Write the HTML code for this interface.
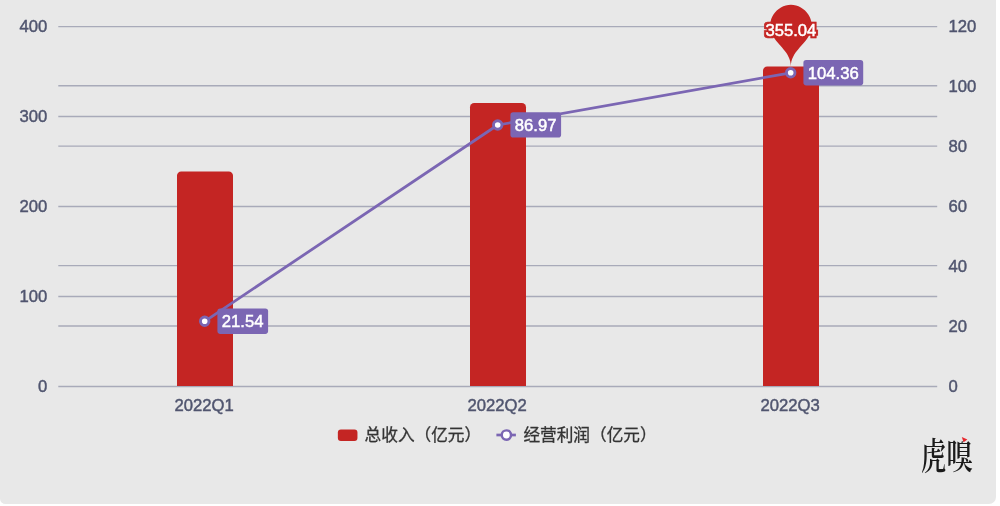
<!DOCTYPE html>
<html lang="zh-CN">
<head>
<meta charset="utf-8">
<title>2022 季度总收入与经营利润</title>
<style>
  html, body { margin: 0; padding: 0; background: #ffffff; }
  body { width: 1000px; height: 506px; overflow: hidden; position: relative; }
  .panel { position: absolute; left: 0; top: 0; width: 996.1px; height: 503.5px; background: #e8e8e8; border-radius: 0 0 7px 5.5px; }
  svg { position: absolute; left: 0; top: 0; display: block; }
  .ax { font-family: "Liberation Sans", "Noto Sans CJK SC", sans-serif; font-size: 16.67px; fill: #50556f; stroke: #50556f; stroke-width: 0.45px; }
  .lg { font-family: "Liberation Sans", "Noto Sans CJK SC", sans-serif; font-size: 16.67px; fill: #333333; stroke: #333333; stroke-width: 0.3px; }
  .lb { font-family: "Liberation Sans", "Noto Sans CJK SC", sans-serif; font-size: 16.67px; fill: #ffffff; }
  .lbw { stroke: #ffffff; stroke-width: 0.5px; }
  .logo { font-family: "Noto Serif CJK SC", "Liberation Serif", serif; font-weight: 600; fill: #1a1a1a; }
</style>
</head>
<body>
<div class="panel"></div>
<svg width="1000" height="506" viewBox="0 0 1000 506">
  <!-- split lines (left axis 0-400 & right axis 0-120) -->
  <g stroke="#a8aab9" stroke-width="1.4" fill="none">
    <line x1="58.3" y1="26.6" x2="937.2" y2="26.6"/>
    <line x1="58.3" y1="85.7" x2="937.2" y2="85.7"/>
    <line x1="58.3" y1="116.5" x2="937.2" y2="116.5"/>
    <line x1="58.3" y1="146.1" x2="937.2" y2="146.1"/>
    <line x1="58.3" y1="206.5" x2="937.2" y2="206.5"/>
    <line x1="58.3" y1="265.6" x2="937.2" y2="265.6"/>
    <line x1="58.3" y1="296.5" x2="937.2" y2="296.5"/>
    <line x1="58.3" y1="326.0" x2="937.2" y2="326.0"/>
    <line x1="58.3" y1="386.5" x2="937.2" y2="386.5"/>
  </g>

  <!-- left axis labels -->
  <g class="ax" text-anchor="end">
    <text x="47.3" y="31.6">400</text>
    <text x="47.3" y="121.6">300</text>
    <text x="47.3" y="211.6">200</text>
    <text x="47.3" y="301.6">100</text>
    <text x="47.3" y="391.6">0</text>
  </g>
  <!-- right axis labels -->
  <g class="ax" text-anchor="start">
    <text x="948.4" y="31.6">120</text>
    <text x="948.4" y="91.6">100</text>
    <text x="948.4" y="151.6">80</text>
    <text x="948.4" y="211.6">60</text>
    <text x="948.4" y="271.6">40</text>
    <text x="948.4" y="331.6">20</text>
    <text x="948.4" y="391.6">0</text>
  </g>
  <!-- category labels -->
  <g class="ax" text-anchor="middle">
    <text x="204.2" y="411">2022Q1</text>
    <text x="497.2" y="411">2022Q2</text>
    <text x="790.2" y="411">2022Q3</text>
  </g>

  <!-- bars -->
  <g fill="#c42523">
    <path d="M177,386 V175.6 a4.2,4.2 0 0 1 4.2,-4.2 H228.8 a4.2,4.2 0 0 1 4.2,4.2 V386 Z"/>
    <path d="M470,386 V107.2 a4.2,4.2 0 0 1 4.2,-4.2 H521.8 a4.2,4.2 0 0 1 4.2,4.2 V386 Z"/>
    <path d="M763,386 V70.8 a4.2,4.2 0 0 1 4.2,-4.2 H814.8 a4.2,4.2 0 0 1 4.2,4.2 V386 Z"/>
  </g>

  <!-- mark point pin -->
  <path fill="#c42523" d="M772.10,34.21 A20.70,20.70 0 1 1 809.70,34.21 C804.51,45.49 790.90,51.91 790.90,66.40 C790.90,51.91 777.29,45.49 772.10,34.21 Z"/>
  <defs>
    <filter id="tb" x="-20%" y="-40%" width="140%" height="180%" color-interpolation-filters="sRGB">
      <feMorphology in="SourceAlpha" operator="dilate" radius="2.3" result="d"/>
      <feFlood flood-color="#c42523"/>
      <feComposite in2="d" operator="in" result="o"/>
      <feMerge><feMergeNode in="o"/><feMergeNode in="SourceGraphic"/></feMerge>
    </filter>
  </defs>
  <text class="lb lbw" x="790.9" y="36.1" text-anchor="middle" filter="url(#tb)">355.04</text>

  <!-- line series -->
  <polyline points="204.7,321.3 497.7,125.0 790.7,72.8" fill="none" stroke="#7b66b3" stroke-width="2.78" stroke-linejoin="round" stroke-linecap="round"/>
  <g fill="#ffffff" stroke="#7b66b3" stroke-width="2.9">
    <circle cx="204.7" cy="321.3" r="4.25"/>
    <circle cx="497.7" cy="125.0" r="4.25"/>
    <circle cx="790.7" cy="72.8" r="4.25"/>
  </g>

  <!-- line labels -->
  <g fill="#7b66b3">
    <rect x="217.4" y="308.5" width="50.7" height="25.4" rx="2.8"/>
    <rect x="510.4" y="112.2" width="50.7" height="25.4" rx="2.8"/>
    <rect x="803.4" y="60.0" width="59.8" height="25.4" rx="2.8"/>
  </g>
  <g class="lb lbw" text-anchor="start">
    <text x="221.8" y="327.2">21.54</text>
    <text x="514.8" y="130.9">86.97</text>
    <text x="807.8" y="78.7">104.36</text>
  </g>

  <!-- legend -->
  <rect x="337.85" y="429.6" width="19.6" height="11.3" rx="3" fill="#c42523"/>
  <text class="lg" x="364.6" y="441.2">总收入（亿元）</text>
  <line x1="496.4" y1="435" x2="515.9" y2="435" stroke="#7b66b3" stroke-width="2.7"/>
  <circle cx="506.4" cy="435" r="4.65" fill="#ffffff" stroke="#7b66b3" stroke-width="2.45"/>
  <text class="lg" x="523.4" y="441.2">经营利润（亿元）</text>

  <!-- watermark logo -->
  <text class="logo" transform="translate(921,469.8) scale(0.68,1)" font-size="37">虎</text>
  <text class="logo" transform="translate(946.4,469) scale(0.71,0.975)" font-size="37">嗅</text>
  <rect x="959.6" y="434" width="8.6" height="7.4" fill="#e8e8e8"/>
  <path d="M961.8,436.9 L967.4,439.6 L963.6,442.3 Z" fill="#e8282e"/>
</svg>
</body>
</html>
